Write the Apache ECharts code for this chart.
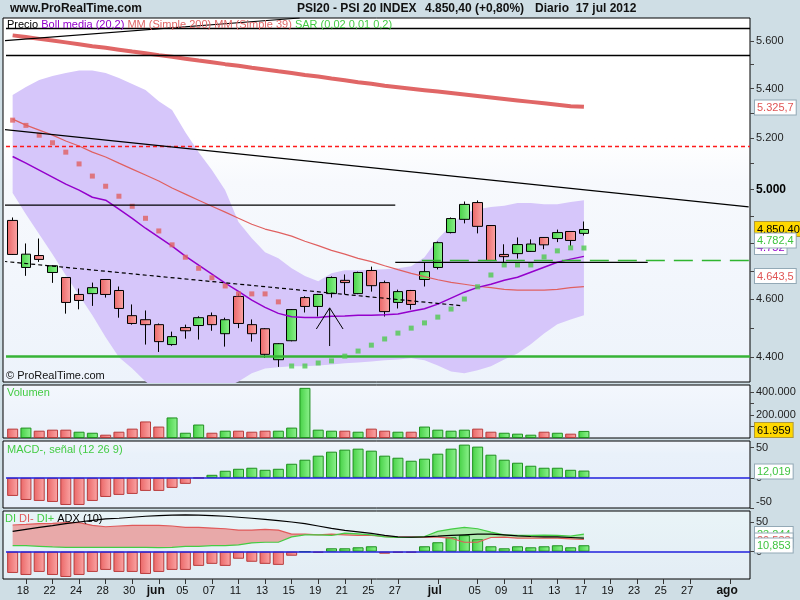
<!DOCTYPE html>
<html>
<head>
<meta charset="utf-8">
<script src="https://cdn.jsdelivr.net/npm/echarts@6.0.0/dist/echarts.min.js"></script>
<style>
html,body{margin:0;padding:0;background:#cfdee5;}
#chart{width:800px;height:600px;}
</style>
</head>
<body>
<div id="chart"></div>
<script>
// ---------------- DATA ----------------
const categories = ['17','18','21','22','23','24','25','28','29','30','31','jun','04','05','06','07','08','11','12','13','14','15','18','19','20','21','22','25','26','27','28','29','jul','03','04','05','06','09','10','11','12','13','16','17','18','19','20','23','24','25','26','27','30','31','ago','02'];
const xLabelIndex = [1,3,5,7,9,11,13,15,17,19,21,23,25,27,29,32,35,37,39,41,43,45,47,49,51,54];

const open  = [4884,4712,4755,4694,4676,4616,4619,4669,4630,4542,4528,4511,4443,4501,4508,4542,4480,4609,4511,4497,4392,4456,4605,4574,4619,4666,4619,4701,4658,4588,4630,4669,4712,4839,4888,4951,4865,4759,4762,4770,4821,4817,4843,4836];
const close = [4759,4760,4741,4718,4588,4595,4640,4616,4567,4515,4511,4453,4470,4490,4535,4511,4528,4515,4480,4410,4446,4563,4574,4616,4676,4658,4694,4647,4556,4626,4581,4697,4802,4891,4944,4862,4737,4751,4795,4797,4794,4839,4810,4850.4];
const low   = [4757,4682,4732,4657,4549,4564,4576,4605,4535,4511,4443,4418,4439,4463,4460,4490,4436,4499,4453,4398,4368,4454,4553,4539,4605,4616,4617,4626,4539,4567,4563,4644,4705,4836,4873,4836,4735,4728,4744,4768,4778,4804,4789,4828];
const high  = [4895,4799,4817,4720,4678,4637,4658,4670,4644,4581,4560,4515,4487,4511,4540,4553,4535,4619,4529,4499,4448,4565,4610,4618,4680,4687,4697,4715,4665,4633,4632,4730,4806,4895,4955,4959,4866,4796,4821,4814,4822,4850,4844,4880];

const bollUpper = [5374,5407,5436,5452,5465,5475,5475,5465,5444,5419,5395,5349,5313,5224,5145,5075,4998,4878,4818,4767,4745,4709,4681,4663,4691,4702,4702,4704,4706,4709,4716,4749,4815,4866,4911,4926,4934,4939,4949,4949,4945,4945,4953,4960];
const bollLower = [4987,4907,4833,4760,4684,4613,4543,4468,4400,4363,4320,4284,4264,4258,4264,4278,4297,4320,4347,4363,4367,4370,4370,4373,4376,4380,4383,4386,4390,4393,4397,4390,4373,4353,4347,4357,4370,4393,4413,4444,4481,4512,4529,4543];
const bollMid   = [5128,5102,5075,5048,5021,4998,4971,4960,4926,4892,4855,4822,4789,4753,4720,4688,4656,4627,4596,4571,4550,4538,4536,4536,4540,4541,4543,4543,4545,4548,4557,4566,4582,4603,4624,4641,4652,4666,4677,4695,4713,4731,4742,4752];
const mm39      = [5276,5252,5232,5212,5189,5169,5145,5126,5102,5079,5056,5033,5006,4983,4960,4937,4915,4892,4870,4852,4840,4826,4807,4791,4774,4760,4745,4733,4718,4704,4691,4679,4668,4659,4652,4645,4640,4634,4631,4631,4631,4634,4640,4643.5];
const mm200     = [5624,5617,5609,5602,5594,5586,5578,5571,5563,5555,5548,5540,5533,5525,5517,5510,5502,5495,5487,5480,5472,5465,5457,5450,5442,5435,5427,5420,5412,5406,5400,5394,5388,5382,5376,5370,5364,5358,5352,5346,5340,5334,5328,5325.7];
const sar       = [5272,5251,5212,5182,5145,5099,5052,5013,4975,4937,4892,4845,4794,4749,4709,4675,4646,4618,4618,4618,4590,4371,4371,4381,4388,4404,4421,4441,4462,4482,4499,4517,4537,4565,4600,4643,4685,4721,4721,4721,4750,4772,4783,4782.4];

const volume = [82000,91000,64000,73000,73000,55000,46000,29000,55000,82000,145000,100000,180000,46000,118000,46000,64000,64000,55000,64000,64000,91000,439000,73000,64000,64000,55000,82000,64000,55000,55000,100000,73000,64000,73000,82000,55000,46000,38000,29000,55000,46000,38000,61959];
const macdHist = [-30,-36.7,-38.3,-40,-45,-45,-38.3,-31.7,-28.3,-26.7,-21.7,-21.7,-16.7,-10,-0.5,5,11.7,15,16.7,13.3,15,23.3,30,36.7,43.3,46.7,48.3,45,36.7,33.3,28.3,31.7,40,48.3,55,51.7,38.3,30,25,20,16.7,16.7,13.3,12.019];

const diHist  = [-35.8,-39.2,-34.1,-39.2,-42.6,-39.2,-34.1,-30.7,-34.1,-34.1,-37.5,-34.1,-30.7,-30.7,-23.9,-20.5,-23.9,-11.9,-17,-20.5,-22.2,-6.8,0,-1.7,5.7,5.7,7.4,9.1,-3.4,-1.7,-1.7,9.1,15.9,24.4,27.8,21,9.1,5.7,9.1,7.4,9.1,10.8,7.4,10.853];
const diMinus = [44.9,46,47.2,47.7,48.9,48.9,44.3,42,43.2,44.3,44.3,44.3,43.2,40.9,40.9,39.8,38.6,36.4,36.4,37.5,36.4,29.5,29.5,28.4,29.5,28.4,27.3,27.3,25.6,24.4,24.4,24.4,24.4,22.7,15.9,15.9,23.9,24.4,22.7,22.7,22.7,22.7,21.6,20.5];
const diPlus  = [10.2,10.2,9.1,8,7.4,7.4,7.4,7.4,7.4,7.4,7.4,6.8,7.4,9.1,9.1,10.2,10.2,11.4,14.8,15.9,15.9,25,28.4,28.4,27.3,31.3,30.1,28.4,25,23.9,23.9,25.6,34.1,38.1,40.9,38.6,33,28.4,27.3,27.3,27.8,27.3,26.1,29.5];
const adx     = [34.1,37.5,40.9,43.8,47.2,50,52.8,55.1,56.3,58,59.7,60.8,61.4,61.9,61.4,60.8,59.7,58,56.3,54.5,52.3,50,47.2,43.2,39.2,35.8,33.5,30.7,27.3,25,24.4,25,26.1,27.3,28.4,29.5,29.5,28.4,26.7,25.6,25,25,23.9,22.7];

// horizontal levels drawn on the price panel
const levelBlackTop = 5650, levelBlack2 = 5518, levelRedDash = 5183, levelGreen = 4409;
// drawn lines: [trading-day position, price]
const trendTop     = [[-0.7,5601],[21.6,5699]];
const trendLong    = [[-0.7,5235],[55.4,4935]];
const hLineLeft    = [[-0.7,4941],[28.8,4941]];
const hLineRight   = [[28.8,4730],[47.8,4730]];
const greenDashLn  = [[30.8,4737],[55.5,4737]];
const dottedLn     = [[-0.7,4734],[33.7,4577]];
const arrowHead    = [[22.86,4496],[23.86,4569],[24.87,4496]];
const arrowShaft   = [[23.86,4569],[23.86,4438]];

// ---------------- CHART ----------------
const L = Math.log;
const lnArr = a => a.map(v => L(v));
const lnPts = a => a.map(p => [p[0], L(p[1])]);
const upDay = close.map((c,i) => i === 0 ? c >= open[i] : c >= close[i-1]);
const fmtThousands = n => String(n).replace(/\B(?=(\d{3})+(?!\d))/g, '.');

const hGrad = (c1, c2) => ({type:'linear', x:0, y:0, x2:1, y2:0, colorStops:[{offset:0,color:c1},{offset:1,color:c2}]});
const vGrad = (stops) => ({type:'linear', x:0, y:0, x2:0, y2:1, colorStops:stops});
const greenFill = hGrad('#45d145','#8ef28e');
const redFill = hGrad('#ea6666','#fba6a6');
const barUp = {color: greenFill, borderColor:'#1f901f', borderWidth:1};
const barDown = {color: redFill, borderColor:'#b93c3c', borderWidth:1};

const panels = [{top:18,height:364},{top:385,height:53},{top:441,height:67},{top:511,height:68}];
const panelBg = [
  vGrad([{offset:0,color:'#ffffff'},{offset:0.33,color:'#ffffff'},{offset:0.45,color:'#f7f9fd'},{offset:1,color:'#edf3fb'}]),
  vGrad([{offset:0,color:'#f3f7fd'},{offset:1,color:'#eaf1fa'}]),
  vGrad([{offset:0,color:'#f1f5fc'},{offset:0.2,color:'#e9f1fa'},{offset:1,color:'#e6eef9'}]),
  vGrad([{offset:0,color:'#e9f4f7'},{offset:1,color:'#e3edf5'}])
];
const grid = [];
panels.forEach(p => grid.push({left:6, right:50, top:p.top, height:p.height, show:false, containLabel:false, outerBoundsMode:'none'}));
panels.forEach((p,k) => grid.push({left:3, right:50, top:p.top, height:p.height, show:true, backgroundColor:panelBg[k], borderColor:'#000', borderWidth:1, containLabel:false, outerBoundsMode:'none'}));

const labelSet = new Set(xLabelIndex);
const xAxis = [0,1,2,3].map(k => ({
  type:'category', gridIndex:k, data:categories, boundaryGap:true, show:k===3,
  axisLine:{show:false, onZero:false}, splitLine:{show:false},
  axisTick:{show:k===3, interval:(i)=>labelSet.has(i), alignWithLabel:true, length:5, inside:false, lineStyle:{color:'#333'}},
  axisLabel:{show:k===3, interval:(i)=>labelSet.has(i), color:'#111', fontSize:11, fontFamily:'Arial', margin:6, padding:[0,6,0,0],
    formatter:(v)=> (v==='jun'||v==='jul'||v==='ago') ? '{m|'+v+'}' : v,
    rich:{m:{fontWeight:'bold', fontSize:12, fontFamily:'Arial', color:'#111'}}}
}));
xAxis.push({type:'value', gridIndex:0, min:-0.5, max:55.5, show:false, axisLine:{onZero:false}});

const priceLabels = [4400,4600,4800,5000,5200,5400,5600];
const priceTicks = [4400,4500,4600,4700,4800,4900,5000,5100,5200,5300,5400,5500,5600];
const yAxis = [
  {type:'value', gridIndex:0, position:'right', min:L(4318), max:L(5699),
    axisLine:{show:false, onZero:false}, splitLine:{show:false},
    axisTick:{show:true, customValues:priceTicks.map(L), length:4, lineStyle:{color:'#444'}},
    axisLabel:{customValues:priceLabels.map(L), color:'#222', fontSize:11, fontFamily:'Arial', margin:6,
      formatter:(v)=>{const p=Math.round(Math.exp(v)); const s=fmtThousands(p); return p===5000 ? '{b|'+s+'}' : s;},
      rich:{b:{fontWeight:'bold', fontSize:12, fontFamily:'Arial', color:'#000'}}}},
  {type:'value', gridIndex:1, position:'right', min:0, max:464000,
    axisLine:{show:false, onZero:false}, splitLine:{show:false},
    axisTick:{show:true, customValues:[100000,200000,300000,400000], length:4, lineStyle:{color:'#444'}},
    axisLabel:{customValues:[200000,400000], color:'#222', fontSize:11, fontFamily:'Arial', margin:6, formatter:(v)=>fmtThousands(v)}},
  {type:'value', gridIndex:2, position:'right', min:-50, max:61,
    axisLine:{show:false, onZero:false}, splitLine:{show:false},
    axisTick:{show:true, customValues:[-50,0,50], length:4, lineStyle:{color:'#444'}},
    axisLabel:{customValues:[-50,0,50], color:'#222', fontSize:11, fontFamily:'Arial', margin:6,
      formatter:(v)=> v < 0 ? '{n|' + v + '}' : String(v),
      rich:{n:{fontSize:11, fontFamily:'Arial', color:'#222', padding:[0,0,12,0]}}}},
  {type:'value', gridIndex:3, position:'right', min:-46, max:68.5,
    axisLine:{show:false, onZero:false}, splitLine:{show:false},
    axisTick:{show:true, customValues:[0,50], length:4, lineStyle:{color:'#444'}},
    axisLabel:{customValues:[0,50], color:'#222', fontSize:11, fontFamily:'Arial', margin:6}}
];

const series = [];
const P = {xAxisIndex:0, yAxisIndex:0};
const A = {xAxisIndex:4, yAxisIndex:0};
// Bollinger band fill
series.push(Object.assign({type:'line', data:lnArr(bollLower), stack:'bb', symbol:'none', lineStyle:{opacity:0}, silent:true, z:1}, P));
series.push(Object.assign({type:'line', data:bollUpper.map((u,i)=>L(u)-L(bollLower[i])), stack:'bb', symbol:'none', lineStyle:{opacity:0}, areaStyle:{color:'#d6c6fa', opacity:1}, silent:true, z:1}, P));
// candles
series.push(Object.assign({type:'candlestick', barWidth:10, z:3,
  data: open.map((o,i)=>[L(o), L(close[i]), L(low[i]), L(high[i])]),
  itemStyle:{color:greenFill, color0:redFill, borderColor:'#000', borderColor0:'#000', borderWidth:1},
  markLine:{silent:true, symbol:['none','none'], label:{show:false}, animation:false, data:[
    {yAxis:L(levelBlackTop), lineStyle:{color:'#000', width:1.3, type:'solid'}},
    {yAxis:L(levelBlack2), lineStyle:{color:'#000', width:1.3, type:'solid'}},
    {yAxis:L(levelRedDash), lineStyle:{color:'#ff1a1a', width:1.4, type:[4,3]}},
    {yAxis:L(levelGreen), lineStyle:{color:'#36b336', width:2.6, type:'solid'}}
  ]}}, P));
// moving averages
series.push(Object.assign({type:'line', data:lnArr(mm200), symbol:'none', lineStyle:{color:'#e06666', width:4}, silent:true, z:4}, P));
series.push(Object.assign({type:'line', data:lnArr(mm39), symbol:'none', lineStyle:{color:'#e06060', width:1.2}, silent:true, z:4}, P));
series.push(Object.assign({type:'line', data:lnArr(bollMid), symbol:'none', lineStyle:{color:'#9400cc', width:1.5}, silent:true, z:4}, P));
// SAR
series.push(Object.assign({type:'scatter', symbol:'rect', symbolSize:5, z:5, silent:true,
  data: sar.map((v,i)=>({value:[i, L(v)], itemStyle:{color: v < close[i] ? '#4fc94f' : '#e06060'}}))}, P));
// drawn lines
const drawLine = (pts, color, width, type) => series.push(Object.assign({type:'line', data:lnPts(pts), symbol:'none', silent:true, z:6, lineStyle:{color:color, width:width, type:type||'solid'}}, A));
drawLine(trendTop,'#000',1.2);
drawLine(trendLong,'#000',1.2);
drawLine(hLineLeft,'#000',1.3);
drawLine(hLineRight,'#000',1.3);
drawLine(greenDashLn,'#2fb52f',1.4,[19,9]);
drawLine(dottedLn,'#000',1.2,[4,3]);
drawLine(arrowHead,'#000',1);
drawLine(arrowShaft,'#000',1);

// Volume
series.push({type:'bar', xAxisIndex:1, yAxisIndex:1, barWidth:11, silent:true,
  data: volume.map((v,i)=>({value:v, itemStyle: upDay[i] ? barUp : barDown}))});
// MACD
const zeroLine = {silent:true, symbol:['none','none'], label:{show:false}, animation:false, data:[{yAxis:0}], lineStyle:{color:'#2121dd', width:1.5, type:'solid'}};
series.push({type:'bar', xAxisIndex:2, yAxisIndex:2, barWidth:11, silent:true, z:3,
  data: macdHist.map(v=>({value:v, itemStyle: v >= 0 ? barUp : barDown})), markLine: zeroLine});
// DI panel
const diBase = diMinus.map((m,i)=>Math.min(m, diPlus[i]));
const Dq = {xAxisIndex:3, yAxisIndex:3, symbol:'none', silent:true};
series.push(Object.assign({type:'line', data:diBase, stack:'dr', lineStyle:{opacity:0}, z:1}, Dq));
series.push(Object.assign({type:'line', data:diMinus.map((m,i)=>Math.max(m-diPlus[i],0)), stack:'dr', lineStyle:{opacity:0}, areaStyle:{color:'#e8a9a9', opacity:1}, z:1}, Dq));
series.push(Object.assign({type:'line', data:diBase, stack:'dg', lineStyle:{opacity:0}, z:1}, Dq));
series.push(Object.assign({type:'line', data:diPlus.map((p,i)=>Math.max(p-diMinus[i],0)), stack:'dg', lineStyle:{opacity:0}, areaStyle:{color:'#aeeaae', opacity:1}, z:1}, Dq));
series.push({type:'bar', xAxisIndex:3, yAxisIndex:3, barWidth:11, silent:true, z:3,
  data: diHist.map(v=>({value:v, itemStyle: v >= 0 ? barUp : barDown})), markLine: zeroLine});
series.push(Object.assign({type:'line', data:diMinus, lineStyle:{color:'#e05a5a', width:1.2}, z:4}, Dq));
series.push(Object.assign({type:'line', data:diPlus, lineStyle:{color:'#44cc44', width:1.2}, z:4}, Dq));
series.push(Object.assign({type:'line', data:adx, lineStyle:{color:'#000', width:1.2}, z:4}, Dq));

// ---------- texts ----------
const F = '11px Arial';
const txt = (x, y, text, font, fill) => ({type:'text', left:x, top:y, z:50, silent:true, style:{text:text, font:font, fill:fill}});
const box = (y, text, fill, bg, border) => ({type:'text', left:754, top:y, z:100, silent:true,
  style:{text:text, font:F, fill:fill, backgroundColor:bg, borderColor:border, borderWidth:1, padding:[2,2,1,2]}});
const graphic = [
  txt(10, 3, 'www.ProRealTime.com', 'bold 12px Arial', '#111'),
  txt(297, 3, 'PSI20 - PSI 20 INDEX', 'bold 12px Arial', '#111'),
  txt(425, 3, '4.850,40 (+0,80%)', 'bold 12px Arial', '#111'),
  txt(535, 3, 'Diario  17 jul 2012', 'bold 12px Arial', '#111'),
  {type:'text', left:7, top:19, z:50, silent:true, style:{
    text:'{k|Precio} {p|Boll media (20,2)} {r|MM (Simple 200)} {r|MM (Simple 39)} {g|SAR (0,02 0,01 0,2)}',
    font:F, rich:{k:{fill:'#000', font:F}, p:{fill:'#9400cc', font:F}, r:{fill:'#e06666', font:F}, g:{fill:'#44cc44', font:F}}}},
  txt(6, 370, '\u00a9 ProRealTime.com', F, '#111'),
  txt(7, 387, 'Volumen', F, '#44cc44'),
  txt(7, 444, 'MACD-, se\u00f1al (12 26 9)', F, '#44cc44'),
  {type:'text', left:5, top:513, z:50, silent:true, style:{
    text:'{g|DI} {r|DI-} {g|DI+} {k|ADX (10)}', font:F,
    rich:{g:{fill:'#44cc44', font:F}, r:{fill:'#e05a5a', font:F}, k:{fill:'#000', font:F}}}},
  box(99.5, '5.325,7', '#e05555', '#ffffff', '#93a9b6'),
  box(221, '4.850,40', '#000', '#ffd800', '#b09a3a'),
  box(239, '4.752', '#9400cc', '#ffffff', '#93a9b6'),
  box(232.5, '4.782,4', '#3fc43f', '#ffffff', '#93a9b6'),
  box(268, '4.643,5', '#e05555', '#ffffff', '#93a9b6'),
  box(422, '61.959', '#000', '#ffd800', '#b09a3a'),
  box(463.5, '12,019', '#3fc43f', '#ffffff', '#93a9b6'),
  box(526, '23,244', '#3fc43f', '#ffffff', '#93a9b6'),
  box(532.5, '20,533', '#e05555', '#ffffff', '#93a9b6'),
  box(537.5, '10,853', '#3fc43f', '#ffffff', '#93a9b6')
];

const chart = echarts.init(document.getElementById('chart'), null, {renderer:'canvas'});
chart.setOption({
  animation:false,
  backgroundColor:'#cfdee5',
  grid: grid,
  xAxis: xAxis,
  yAxis: yAxis,
  series: series,
  graphic: graphic
});
</script>
</body>
</html>
